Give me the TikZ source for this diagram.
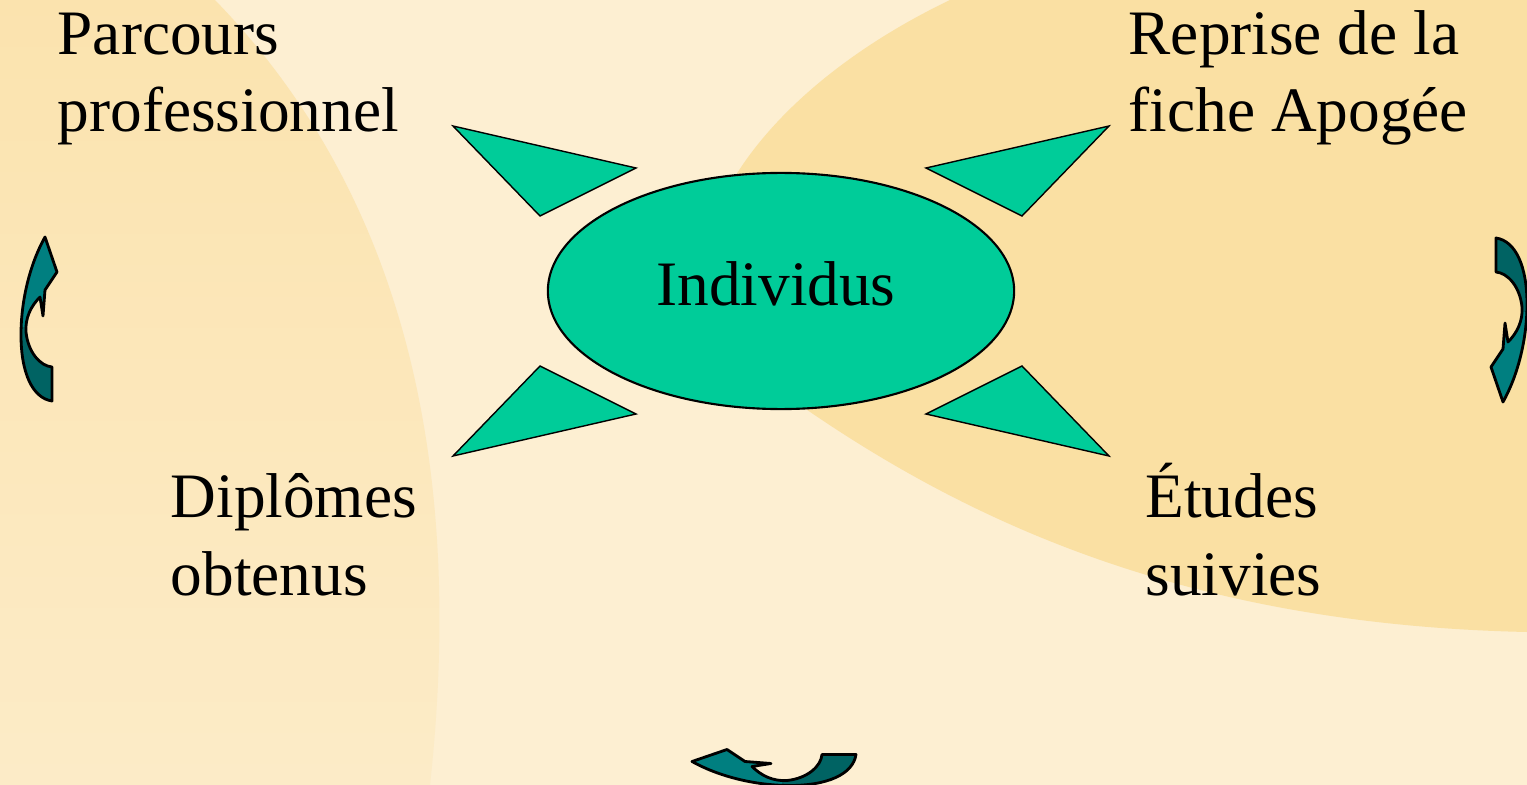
\documentclass[tikz,border=0pt]{standalone}
\usepackage{fontspec}
\setmainfont{Liberation Serif}
\usetikzlibrary{positioning,shapes.geometric}

\definecolor{sandbg}{HTML}{FDEFD2}
\definecolor{sanddark}{HTML}{FBE3AE}
\definecolor{swoosh}{HTML}{FAE0A3}
\definecolor{seagreen}{HTML}{00CC99}
\definecolor{tealdark}{HTML}{006363}
\definecolor{teallight}{HTML}{007F80}

% outline of one curved arrow (tail at the bottom, head pointing up)
\newcommand\loopoutline{(52,401) .. controls (32,398) and (21,372) .. (21,335)
  .. controls (21,298) and (31,262) .. (45,237)
  -- (57,272) -- (45,290) -- (43,316) -- (40,297)
  .. controls (31,306) and (25,318) .. (26,332)
  .. controls (28,352) and (40,366) .. (52,367) -- cycle}

\tikzset{
  txt/.style={font=\fontsize{18}{21.9}\selectfont, align=left, inner sep=0pt},
  wedge/.style={fill=seagreen, draw=black, line width=0.4pt, line join=miter},
  loopy/.pic={
    \begin{scope}[shift={(-38.5,-319)}]
      \fill[teallight] \loopoutline;
      \begin{scope}
        \clip \loopoutline;
        \fill[tealdark] (0,327) rectangle (70,410);
      \end{scope}
      \draw[black, line width=0.8pt, line join=round] \loopoutline;
    \end{scope}
  }
}

\begin{document}
\begin{tikzpicture}[x=0.01cm, y=-0.01cm]
  \useasboundingbox (0,0) rectangle (1527,785);
  \clip (0,0) rectangle (1527,785);

  % background
  \fill[sandbg] (0,0) rectangle (1527,785);
  \shade[top color=sanddark, bottom color=sandbg!70!sanddark]
    (0,0) -- (215,0) .. controls (380,170) and (470,420) .. (430,785) -- (0,785) -- cycle;
  \fill[swoosh] (1527,0) -- (950,0) .. controls (700,120) and (620,330) .. (800,405)
    .. controls (980,530) and (1200,625) .. (1527,632) -- cycle;

  % centre
  \node[ellipse, draw=black, line width=0.6pt, fill=seagreen, inner sep=0pt,
        minimum width=4.66cm, minimum height=2.36cm] (ind) at (781,291) {};
  \node[txt, anchor=base] (indtext) at (776,305) {Individus};

  % pointers
  \foreach \sx/\sy in {1/1,-1/1,1/-1,-1/-1}
    \draw[wedge, shift={(781,291)}, xscale=\sx, yscale=\sy]
      (-328,-165) -- (-145,-123) -- (-241,-75) -- cycle;

  % labels (anchored on the baseline of the second line)
  \node[txt, anchor=base west] (parcours) at (57,132) {Parcours\\professionnel};
  \node[txt, anchor=base west] (reprise) at (1128,132) {Reprise de la\\fiche Apogée};
  \node[txt, anchor=base west] (diplomes) at (170,595) {Diplômes\\obtenus};
  \node[txt, anchor=base west] (etudes) at (1145,595) {Études\\suivies};

  % curved arrows
  \pic (loopleft) at (38.5,319) {loopy};
  \pic[rotate=180] (loopright) at (1509.5,320) {loopy};
  \pic[rotate=90] (loopbottom) at (774,768) {loopy};
\end{tikzpicture}
\end{document}
